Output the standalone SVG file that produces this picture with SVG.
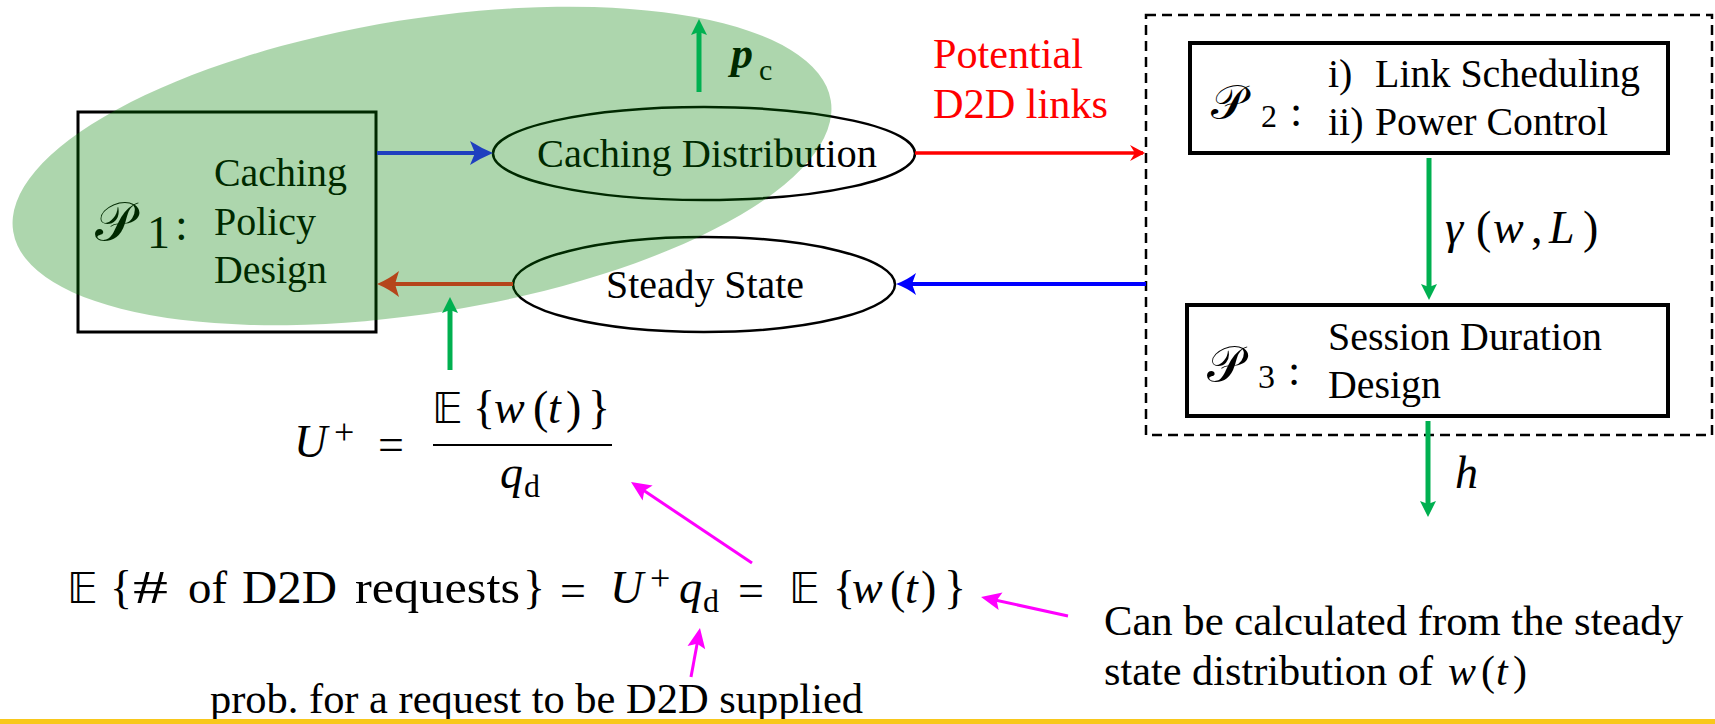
<svg xmlns="http://www.w3.org/2000/svg" width="1715" height="724" viewBox="0 0 1715 724">
  <style>
    text { font-family: "Liberation Serif", serif; fill: #000; }
    text.it { font-style: italic; }
    text.scr { font-family: "DejaVu Serif", "DejaVu Sans", serif; }
    text.bb { font-family: "DejaVu Sans", sans-serif; }
    .node { fill: none; stroke: #000; }
    .conn { fill: none; stroke-linecap: butt; }
  </style>
  <defs>
    <marker id="ah-navy" markerUnits="userSpaceOnUse" orient="auto" overflow="visible" markerWidth="1" markerHeight="1">
      <path d="M8,0 Q-4,-5 -15,-12 L-10,0 L-15,12 Q-4,5 8,0 Z" fill="#1f3fbf"/>
    </marker>
    <marker id="ah-blue" markerUnits="userSpaceOnUse" orient="auto" overflow="visible" markerWidth="1" markerHeight="1">
      <path d="M8,0 Q-3,-4 -12,-11 L-8,0 L-12,11 Q-3,4 8,0 Z" fill="#0000ff"/>
    </marker>
    <marker id="ah-brown" markerUnits="userSpaceOnUse" orient="auto" overflow="visible" markerWidth="1" markerHeight="1">
      <path d="M8,0 Q-4,-5 -14,-13 L-10,0 L-14,13 Q-4,5 8,0 Z" fill="#b5451b"/>
    </marker>
    <marker id="ah-red" markerUnits="userSpaceOnUse" orient="auto" overflow="visible" markerWidth="1" markerHeight="1">
      <path d="M2,0 L-13,-8 L-8,0 L-13,8 Z" fill="#ff0000"/>
    </marker>
    <marker id="ah-green" markerUnits="userSpaceOnUse" orient="auto" overflow="visible" markerWidth="1" markerHeight="1">
      <path d="M6,0 L-10,-8 L-7,0 L-10,8 Z" fill="#00b050"/>
    </marker>
    <marker id="ah-mag" markerUnits="userSpaceOnUse" orient="auto" overflow="visible" markerWidth="1" markerHeight="1">
      <path d="M6,0 L-14,-9 L-10,0 L-14,9 Z" fill="#ff00ff"/>
    </marker>
  </defs>

  <rect x="0" y="0" width="1715" height="724" fill="#ffffff"/>

  <!-- P1: caching policy design -->
  <g id="p1">
    <rect x="78" y="112" width="298" height="220" class="node" stroke-width="3"/>
    <text class="scr" x="95" y="240" font-size="54">𝒫</text>
    <text x="147" y="248" font-size="46">1</text>
    <text x="175" y="240" font-size="46">:</text>
    <text x="214" y="186" font-size="40" textLength="133" lengthAdjust="spacingAndGlyphs">Caching</text>
    <text x="214" y="235" font-size="40" textLength="102" lengthAdjust="spacingAndGlyphs">Policy</text>
    <text x="214" y="283" font-size="40" textLength="113" lengthAdjust="spacingAndGlyphs">Design</text>
  </g>

  <g id="caching-distribution">
    <ellipse cx="704" cy="153.5" rx="211" ry="46.5" class="node" stroke-width="2.5"/>
    <text x="537" y="167" font-size="40" textLength="340" lengthAdjust="spacingAndGlyphs">Caching Distribution</text>
  </g>

  <g id="steady-state">
    <ellipse cx="704" cy="284.5" rx="191" ry="47.5" class="node" stroke-width="2.5"/>
    <text x="606" y="298" font-size="40" textLength="198" lengthAdjust="spacingAndGlyphs">Steady State</text>
  </g>

  <!-- p_c output label -->
  <g id="pc-label">
    <text class="it" x="731" y="68" font-size="44" font-weight="bold">p</text>
    <text x="759" y="80" font-size="30">c</text>
  </g>

  <!-- translucent grouping of the caching stage -->
  <g id="caching-region">
    <ellipse cx="422" cy="166" rx="414" ry="147" transform="rotate(-9.1 422 166)" fill="#007f00" fill-opacity="0.32"/>
  </g>

  <!-- P2 / P3 group -->
  <g id="joint-design">
    <rect x="1146" y="15" width="566" height="420" fill="none" stroke="#000" stroke-width="2.5" stroke-dasharray="10 6"/>
  </g>

  <g id="p2">
    <rect x="1190" y="43" width="478" height="110" class="node" stroke-width="4"/>
    <text class="scr" x="1211" y="119" font-size="48">𝒫</text>
    <text x="1261" y="127" font-size="32">2</text>
    <text x="1290" y="126" font-size="44">:</text>
    <text x="1328" y="87" font-size="40">i)</text>
    <text x="1375" y="87" font-size="40" textLength="265" lengthAdjust="spacingAndGlyphs">Link Scheduling</text>
    <text x="1328" y="135" font-size="40">ii)</text>
    <text x="1375" y="135" font-size="40" textLength="233" lengthAdjust="spacingAndGlyphs">Power Control</text>
  </g>

  <g id="p3">
    <rect x="1187" y="305" width="481" height="111" class="node" stroke-width="4"/>
    <text class="scr" x="1207" y="381" font-size="50">𝒫</text>
    <text x="1258" y="388" font-size="34">3</text>
    <text x="1288" y="385" font-size="44">:</text>
    <text x="1328" y="350" font-size="40" textLength="274" lengthAdjust="spacingAndGlyphs">Session Duration</text>
    <text x="1328" y="398" font-size="40" textLength="113" lengthAdjust="spacingAndGlyphs">Design</text>
  </g>

  <!-- connectors -->
  <g id="connectors">
    <line x1="377" y1="153" x2="485" y2="153" class="conn" stroke="#1f3fbf" stroke-width="4" marker-end="url(#ah-navy)"/>
    <line x1="915" y1="153" x2="1143" y2="153" class="conn" stroke="#ff0000" stroke-width="3.5" marker-end="url(#ah-red)"/>
    <line x1="1146" y1="284" x2="904" y2="284" class="conn" stroke="#0000ff" stroke-width="4" marker-end="url(#ah-blue)"/>
    <line x1="513" y1="284" x2="385" y2="284" class="conn" stroke="#b5451b" stroke-width="4" marker-end="url(#ah-brown)"/>
    <line x1="450" y1="370" x2="450" y2="303" class="conn" stroke="#00b050" stroke-width="5" marker-end="url(#ah-green)"/>
    <line x1="699" y1="92" x2="699" y2="25" class="conn" stroke="#00b050" stroke-width="5" marker-end="url(#ah-green)"/>
    <line x1="1429" y1="158" x2="1429" y2="294" class="conn" stroke="#00b050" stroke-width="5" marker-end="url(#ah-green)"/>
    <line x1="1428" y1="421" x2="1428" y2="511" class="conn" stroke="#00b050" stroke-width="5" marker-end="url(#ah-green)"/>
    <line x1="752" y1="563" x2="636" y2="485.3" class="conn" stroke="#ff00ff" stroke-width="3" marker-end="url(#ah-mag)"/>
    <line x1="1068" y1="616" x2="986.9" y2="598.3" class="conn" stroke="#ff00ff" stroke-width="3" marker-end="url(#ah-mag)"/>
    <line x1="691" y1="677" x2="698.9" y2="633.9" class="conn" stroke="#ff00ff" stroke-width="3" marker-end="url(#ah-mag)"/>
  </g>

  <!-- edge labels -->
  <g id="labels">
    <text x="933" y="68" font-size="42" style="fill:#ff0000" textLength="150" lengthAdjust="spacingAndGlyphs">Potential</text>
    <text x="933" y="118" font-size="42" style="fill:#ff0000" textLength="175" lengthAdjust="spacingAndGlyphs">D2D links</text>
    <text class="it" x="1445" y="243" font-size="46">γ</text>
    <text x="1476" y="243" font-size="46">(</text>
    <text class="it" x="1493" y="243" font-size="46">w</text>
    <text x="1531" y="243" font-size="46">,</text>
    <text class="it" x="1549" y="243" font-size="46">L</text>
    <text x="1583" y="243" font-size="46">)</text>
    <text class="it" x="1455" y="488" font-size="46">h</text>
  </g>

  <!-- U+ = E{w(t)} / q_d -->
  <g id="eq-fraction">
    <text class="it" x="294" y="457" font-size="46">U</text>
    <text x="334" y="444" font-size="36">+</text>
    <text x="378" y="460" font-size="46">=</text>
    <line x1="433" y1="445" x2="612" y2="445" stroke="#000" stroke-width="2"/>
    <text class="bb" x="432" y="423" font-size="42">𝔼</text>
    <text x="473" y="423" font-size="46">{</text>
    <text class="it" x="494" y="423" font-size="46">w</text>
    <text x="533" y="423" font-size="46">(</text>
    <text class="it" x="548" y="423" font-size="46">t</text>
    <text x="566" y="423" font-size="46">)</text>
    <text x="588" y="423" font-size="46">}</text>
    <text class="it" x="500" y="488" font-size="46">q</text>
    <text x="524" y="497" font-size="32">d</text>
  </g>

  <!-- E{# of D2D requests} = U+ q_d = E{w(t)} -->
  <g id="eq-requests">
    <text class="bb" x="67" y="603" font-size="42">𝔼</text>
    <text x="110" y="603" font-size="46">{</text>
    <text x="133" y="603" font-size="46" textLength="35" lengthAdjust="spacingAndGlyphs">#</text>
    <text x="188" y="603" font-size="46" textLength="39" lengthAdjust="spacingAndGlyphs">of</text>
    <text x="242" y="603" font-size="46" textLength="95" lengthAdjust="spacingAndGlyphs">D2D</text>
    <text x="355" y="603" font-size="46" textLength="165" lengthAdjust="spacingAndGlyphs">requests</text>
    <text x="523" y="603" font-size="46">}</text>
    <text x="560" y="606" font-size="46">=</text>
    <text class="it" x="610" y="603" font-size="46">U</text>
    <text x="650" y="590" font-size="36">+</text>
    <text class="it" x="679" y="603" font-size="46">q</text>
    <text x="703" y="612" font-size="32">d</text>
    <text x="738" y="606" font-size="46">=</text>
    <text class="bb" x="789" y="603" font-size="42">𝔼</text>
    <text x="833" y="603" font-size="46">{</text>
    <text class="it" x="852" y="603" font-size="46">w</text>
    <text x="890" y="603" font-size="46">(</text>
    <text class="it" x="905" y="603" font-size="46">t</text>
    <text x="921" y="603" font-size="46">)</text>
    <text x="944" y="603" font-size="46">}</text>
  </g>

  <g id="note-prob">
    <text x="210" y="713" font-size="42" textLength="653" lengthAdjust="spacingAndGlyphs">prob. for a request to be D2D supplied</text>
  </g>

  <g id="note-steady">
    <text x="1104" y="635" font-size="42" textLength="579" lengthAdjust="spacingAndGlyphs">Can be calculated from the steady</text>
    <text x="1104" y="685" font-size="42" textLength="329" lengthAdjust="spacingAndGlyphs">state distribution of</text>
    <text class="it" x="1448" y="685" font-size="42">w</text>
    <text x="1481" y="685" font-size="42">(</text>
    <text class="it" x="1496" y="685" font-size="42">t</text>
    <text x="1513" y="685" font-size="42">)</text>
  </g>

  <!-- footer rule -->
  <rect x="0" y="719" width="1715" height="5" fill="#f8c81c"/>
</svg>
